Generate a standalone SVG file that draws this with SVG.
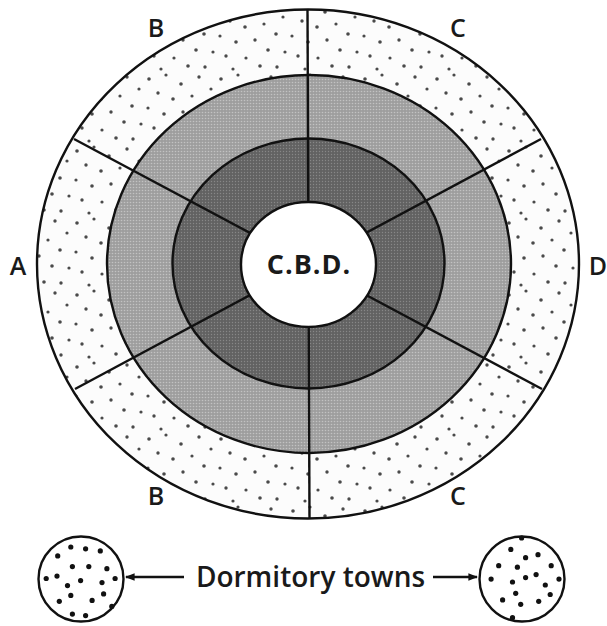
<svg xmlns="http://www.w3.org/2000/svg" width="607" height="626" viewBox="0 0 607 626">
<style>
.ln{stroke:#111;stroke-width:2.4;fill:none}
.rim{stroke:#111;stroke-width:2.4}
.lbl{font-family:"Open Sans","Liberation Sans",sans-serif;font-weight:600;font-size:25px;fill:#1a1a1a;text-anchor:middle}
.dot{fill:#111}
</style>
<defs>
<pattern id="speck" width="72" height="72" patternUnits="userSpaceOnUse">
<rect width="72" height="72" fill="#fcfcfc"/>
<g fill="#4a4a4a">
<circle cx="5" cy="7" r="1.8"/><circle cx="22" cy="3" r="1.6"/><circle cx="37" cy="12" r="1.8"/>
<circle cx="55" cy="5" r="1.7"/><circle cx="67" cy="17" r="1.6"/><circle cx="14" cy="21" r="1.7"/>
<circle cx="29" cy="27" r="1.8"/><circle cx="48" cy="24" r="1.6"/><circle cx="60" cy="34" r="1.8"/>
<circle cx="4" cy="36" r="1.6"/><circle cx="20" cy="42" r="1.8"/><circle cx="39" cy="40" r="1.7"/>
<circle cx="52" cy="50" r="1.8"/><circle cx="69" cy="52" r="1.6"/><circle cx="10" cy="56" r="1.7"/>
<circle cx="30" cy="58" r="1.6"/><circle cx="44" cy="66" r="1.8"/><circle cx="61" cy="67" r="1.7"/>
<circle cx="17" cy="69" r="1.6"/>
</g>
</pattern>
<pattern id="light" width="3" height="3" patternUnits="userSpaceOnUse">
<rect width="3" height="3" fill="#9e9e9e"/>
<circle cx="1.5" cy="1.5" r="0.8" fill="#c2c2c2"/>
</pattern>
<pattern id="dark" width="3" height="3" patternUnits="userSpaceOnUse">
<rect width="3" height="3" fill="#626262"/>
<circle cx="1.5" cy="1.5" r="0.7" fill="#878787"/>
</pattern>
<marker id="ah" viewBox="0 0 10 10" refX="9" refY="5" markerWidth="4" markerHeight="4" orient="auto-start-reverse">
<path d="M0,1 L10,5 L0,9 Z" fill="#111"/>
</marker>
</defs>

<g id="outer-ring"><ellipse cx="308" cy="264" rx="271" ry="254.5" fill="url(#speck)" class="rim"/></g>
<g id="middle-ring"><ellipse cx="309" cy="264" rx="202" ry="189" fill="url(#light)" class="rim"/></g>
<g id="inner-ring"><ellipse cx="308.5" cy="263.5" rx="136" ry="125" fill="url(#dark)" class="rim"/></g>

<g id="sectors">
<line class="ln" x1="307.5" y1="9.5" x2="309.5" y2="518"/>
<line class="ln" x1="74" y1="139" x2="308" y2="264"/>
<line class="ln" x1="541" y1="139" x2="308" y2="264"/>
<line class="ln" x1="75" y1="389" x2="308" y2="264"/>
<line class="ln" x1="542" y1="389" x2="308" y2="264"/>
</g>

<g id="cbd">
<ellipse cx="308.5" cy="264.5" rx="67.5" ry="62.5" fill="#fff" class="rim"/>
<text x="309" y="274" class="lbl" style="font-size:27px;font-weight:700;letter-spacing:1px">C.B.D.</text>
</g>

<g id="labels">
<text x="156" y="37" class="lbl">B</text>
<text x="458" y="37" class="lbl">C</text>
<text x="18" y="275" class="lbl">A</text>
<text x="598" y="275" class="lbl">D</text>
<text x="156" y="505" class="lbl">B</text>
<text x="458" y="505" class="lbl">C</text>
</g>

<g id="town-left">
<circle cx="81" cy="579" r="42.5" fill="#fff" class="rim"/>
<g class="dot">
<circle cx="70.8" cy="547" r="2.6"/><circle cx="85.6" cy="548.8" r="2.6"/><circle cx="100.3" cy="550.9" r="2.6"/>
<circle cx="57.7" cy="555.9" r="2.6"/><circle cx="72.4" cy="566.6" r="2.6"/><circle cx="88.8" cy="566.6" r="2.6"/>
<circle cx="106.9" cy="568.7" r="2.6"/><circle cx="46.2" cy="578.5" r="2.6"/><circle cx="57" cy="576.1" r="2.6"/>
<circle cx="80.6" cy="580.6" r="2.6"/><circle cx="67.5" cy="585.6" r="2.6"/><circle cx="102" cy="582.6" r="2.6"/>
<circle cx="115.1" cy="578.5" r="2.6"/><circle cx="70.8" cy="595.4" r="2.6"/><circle cx="103.6" cy="593.9" r="2.6"/>
<circle cx="59.3" cy="601.3" r="2.6"/><circle cx="92.1" cy="600.4" r="2.6"/><circle cx="111.8" cy="606.4" r="2.6"/>
<circle cx="72.4" cy="614.1" r="2.6"/><circle cx="85.6" cy="615.6" r="2.6"/>
</g>
</g>

<g id="town-right">
<circle cx="522" cy="579" r="42.5" fill="#fff" class="rim"/>
<g class="dot">
<circle cx="521.6" cy="538" r="2.6"/><circle cx="510.8" cy="549.4" r="2.6"/><circle cx="525.6" cy="557.7" r="2.6"/>
<circle cx="538" cy="554.7" r="2.6"/><circle cx="498.7" cy="565.7" r="2.6"/><circle cx="517.4" cy="567.2" r="2.6"/>
<circle cx="551.2" cy="565.7" r="2.6"/><circle cx="536.1" cy="574.6" r="2.6"/><circle cx="525.6" cy="577.6" r="2.6"/>
<circle cx="491.1" cy="579.1" r="2.6"/><circle cx="512.5" cy="582" r="2.6"/><circle cx="545.3" cy="585" r="2.6"/>
<circle cx="559" cy="579.1" r="2.6"/><circle cx="515.7" cy="593.3" r="2.6"/><circle cx="550.2" cy="594.5" r="2.6"/>
<circle cx="502.6" cy="599.9" r="2.6"/><circle cx="520.7" cy="604.3" r="2.6"/><circle cx="538.7" cy="601.3" r="2.6"/>
<circle cx="512.5" cy="617.7" r="2.6"/>
</g>
</g>

<g id="caption">
<text x="310.5" y="587" class="lbl" style="font-size:28px">Dormitory towns</text>
</g>

<g id="connectors">
<line class="ln" x1="184" y1="577" x2="126" y2="577" marker-end="url(#ah)"/>
<line class="ln" x1="433" y1="577" x2="477" y2="577" marker-end="url(#ah)"/>
</g>
</svg>
